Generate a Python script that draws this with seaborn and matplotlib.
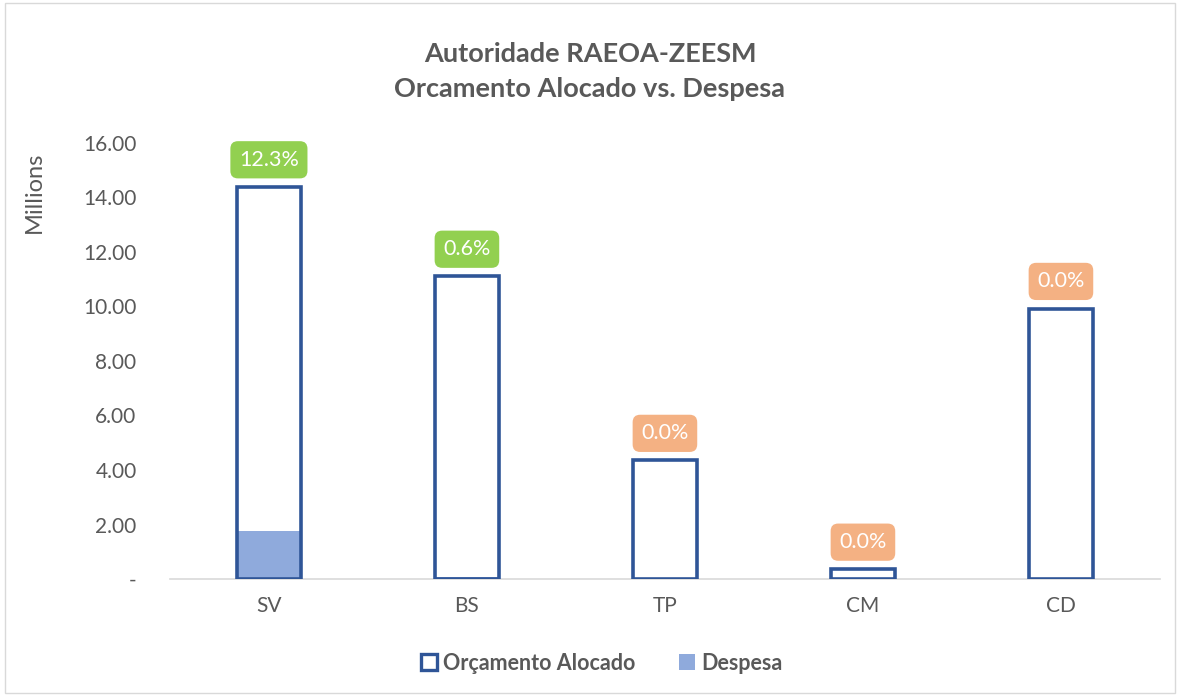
import numpy as np
import pandas as pd
import matplotlib
matplotlib.use("Agg")
import matplotlib.pyplot as plt
import matplotlib.patches as mpatches
import seaborn as sns

# data (millions)
categorias = ["SV", "BS", "TP", "CM", "CD"]
orcamento = [14.38, 11.10, 4.35, 0.36, 9.92]
despesa = [1.77, 0.067, 0.0, 0.0, 0.0]

df = pd.DataFrame({"cat": categorias, "orc": orcamento, "desp": despesa})
df["pct"] = df["desp"] / df["orc"] * 100

sns.set_style("white")
plt.rcParams["font.family"] = ["Lato", "DejaVu Sans"]

txt = "#595959"
azul = "#2F5597"
azul_claro = "#8FAADC"

fig = plt.figure(figsize=(11.8, 6.96), dpi=100)
ax = fig.add_axes([0.144, 0.168, 0.839, 0.627])

# despesa first so the outline of the budget bar sits on top
sns.barplot(data=df, x="cat", y="desp", color=azul_claro, saturation=1,
            width=0.32, linewidth=0, ax=ax, zorder=2)
sns.barplot(data=df, x="cat", y="orc", color=azul, fill=False, saturation=1,
            width=0.32, linewidth=2.6, ax=ax, zorder=3)

ax.set_ylim(0, 16)
ax.set_xlim(-0.5, 4.5)
ax.set_yticks(np.arange(0, 17, 2))
ax.set_yticklabels(["-"] + [f"{v:.2f}" for v in np.arange(2, 17, 2)])
ax.tick_params(axis="both", colors=txt, labelsize=15, length=0)
ax.tick_params(axis="y", pad=24)
ax.tick_params(axis="x", pad=12)
ax.set_xlabel("")
ax.set_ylabel("")
for s in ["top", "right", "left"]:
    ax.spines[s].set_visible(False)
ax.spines["bottom"].set_color("#D9D9D9")
ax.spines["bottom"].set_linewidth(1.2)

# percentage labels
for i, row in df.iterrows():
    cor = "#92D050" if row["pct"] > 0 else "#F4B183"
    ax.annotate(f"{row['pct']:.1f}%", (i, row["orc"]), xytext=(0, 19.5),
                textcoords="offset points", ha="center", va="center",
                color="white", fontsize=15.5, zorder=5,
                bbox=dict(boxstyle="round,pad=0.4,rounding_size=0.35",
                          fc=cor, ec="none"))

fig.text(0.5, 0.897, "Autoridade RAEOA-ZEESM\nOrcamento Alocado vs. Despesa",
         ha="center", va="center", fontsize=19.5, fontweight="bold", color=txt,
         linespacing=1.55)
fig.text(0.029, 0.724, "Millions", rotation=90, ha="center", va="center",
         fontsize=17, color=txt)

handles = [mpatches.Patch(facecolor="white", edgecolor=azul, linewidth=2.4,
                          label="Orçamento Alocado"),
           mpatches.Patch(facecolor=azul_claro, edgecolor="none", label="Despesa")]
leg = fig.legend(handles=handles, loc="center", bbox_to_anchor=(0.51, 0.047),
                 ncol=2, frameon=False, fontsize=15.5, handlelength=0.75,
                 handleheight=0.75, handletextpad=0.3, columnspacing=2.0)
for t in leg.get_texts():
    t.set_color(txt)
    t.set_fontweight("bold")

fig.patches.append(mpatches.Rectangle((0.004, 0.004), 0.992, 0.992,
                                      transform=fig.transFigure, fill=False,
                                      edgecolor="#D9D9D9", linewidth=1))

fig.savefig("out.png", dpi=100)
